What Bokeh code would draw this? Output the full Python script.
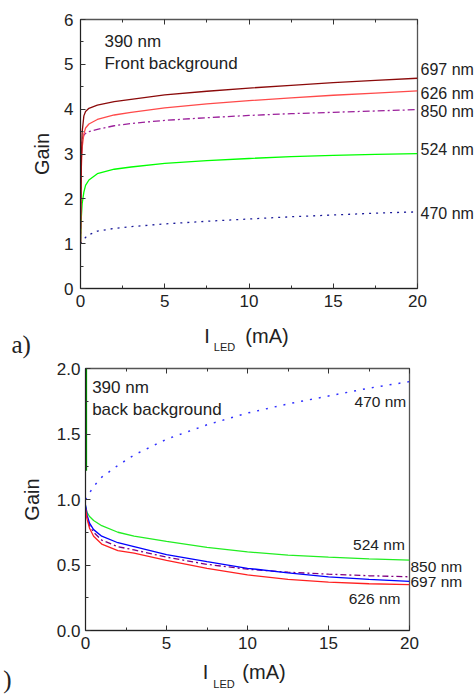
from bokeh.plotting import figure
from bokeh.layouts import column, row
from bokeh.models import (Range1d, SingleIntervalTicker, FixedTicker, LinearAxis, Label,
                          NumeralTickFormatter, CustomJSTickFormatter)
from bokeh.embed import file_html
from bokeh.resources import INLINE

# ---------------- data: panel a) front background ----------------
xa = [0, 0.05, 0.1, 0.2, 0.3, 0.5, 1, 2, 3, 5, 7.5, 10, 12.5, 15, 17.5, 20]
a_697 = [1.0, 2.9, 3.5, 3.85, 3.95, 4.02, 4.09, 4.17, 4.22, 4.32, 4.40, 4.47, 4.53, 4.59, 4.64, 4.69]
a_626 = [1.0, 2.7, 3.15, 3.45, 3.58, 3.67, 3.77, 3.87, 3.93, 4.03, 4.12, 4.19, 4.25, 4.31, 4.36, 4.41]
a_850 = [1.0, 2.9, 3.3, 3.42, 3.46, 3.50, 3.55, 3.63, 3.68, 3.75, 3.81, 3.86, 3.90, 3.93, 3.96, 3.99]
a_524 = [1.0, 1.6, 1.9, 2.15, 2.30, 2.42, 2.56, 2.66, 2.71, 2.79, 2.85, 2.90, 2.94, 2.97, 2.99, 3.01]
a_470 = [1.0, 1.03, 1.06, 1.10, 1.14, 1.20, 1.28, 1.34, 1.38, 1.44, 1.50, 1.55, 1.60, 1.64, 1.68, 1.71]
a_series = ["697 nm", "626 nm", "850 nm", "524 nm", "470 nm"]

# ---------------- data: panel b) back background ----------------
xb = [0, 0.1, 0.25, 0.5, 1, 2, 3, 5, 7.5, 10, 12.5, 15, 17.5, 20]
b_470 = [1.0, 1.02, 1.05, 1.10, 1.17, 1.26, 1.34, 1.46, 1.57, 1.66, 1.73, 1.79, 1.85, 1.90]
b_524 = [0.95, 0.90, 0.87, 0.84, 0.80, 0.75, 0.72, 0.68, 0.635, 0.60, 0.575, 0.56, 0.547, 0.537]
b_697 = [0.96, 0.88, 0.82, 0.77, 0.72, 0.67, 0.64, 0.58, 0.525, 0.475, 0.44, 0.41, 0.39, 0.375]
b_626 = [0.93, 0.85, 0.78, 0.72, 0.66, 0.61, 0.59, 0.535, 0.475, 0.425, 0.39, 0.37, 0.357, 0.35]
b_850 = [0.94, 0.86, 0.80, 0.75, 0.69, 0.64, 0.615, 0.56, 0.505, 0.468, 0.445, 0.43, 0.418, 0.41]
spike_x = [0.05, 0.05]
spike_y = [1.22, 2.0]

FONT = "Liberation Sans"
SERIF = "Liberation Serif"
TXT = "#222222"
NBSP = "\u00a0"


def hide_axis_marks(ax):
    ax.major_tick_in = 0
    ax.major_tick_out = 0
    ax.minor_tick_in = 0
    ax.minor_tick_out = 0
    ax.axis_line_color = None
    ax.major_tick_line_color = None
    ax.minor_tick_line_color = None


def style(p, ytick_interval, fmt, ylab_standoff, ymaj_standoff, xmaj_standoff):
    p.xgrid.visible = False
    p.ygrid.visible = False
    p.outline_line_color = "#555555"
    p.outline_line_width = 1.3
    p.background_fill_color = "white"
    p.border_fill_color = "white"
    p.xaxis.ticker = SingleIntervalTicker(interval=5, num_minor_ticks=2)
    p.yaxis.ticker = SingleIntervalTicker(interval=ytick_interval, num_minor_ticks=2)
    if fmt:
        p.yaxis.formatter = NumeralTickFormatter(format=fmt)
    for ax in (p.xaxis[0], p.yaxis[0]):
        ax.major_tick_in = 5
        ax.major_tick_out = 0
        ax.minor_tick_in = 3
        ax.minor_tick_out = 0
        ax.axis_line_color = "#222222"
        ax.major_tick_line_color = "#333333"
        ax.minor_tick_line_color = "#333333"
        ax.major_label_text_font = FONT
        ax.major_label_text_font_size = "17px"
        ax.major_label_text_color = TXT
    p.xaxis.major_label_standoff = xmaj_standoff
    p.yaxis.major_label_standoff = ymaj_standoff
    p.yaxis.axis_label = "Gain"
    p.yaxis.axis_label_text_font = FONT
    p.yaxis.axis_label_text_font_size = "20px"
    p.yaxis.axis_label_text_font_style = "normal"
    p.yaxis.axis_label_text_color = TXT
    p.yaxis.axis_label_standoff = ylab_standoff
    top = LinearAxis(ticker=SingleIntervalTicker(interval=5, num_minor_ticks=2),
                     formatter=CustomJSTickFormatter(code="return ''"))
    top.major_tick_in = 5
    top.major_tick_out = 0
    top.minor_tick_in = 3
    top.minor_tick_out = 0
    top.major_label_standoff = 0
    top.axis_line_color = None
    top.major_tick_line_color = "#333333"
    top.minor_tick_line_color = "#333333"
    p.add_layout(top, "above")


def right_labels(p, ys, texts, size, standoff):
    ax = LinearAxis(ticker=FixedTicker(ticks=ys),
                    major_label_overrides={y: t for y, t in zip(ys, texts)})
    hide_axis_marks(ax)
    ax.major_label_text_font = FONT
    ax.major_label_text_font_size = size
    ax.major_label_text_color = TXT
    ax.major_label_standoff = standoff
    p.add_layout(ax, "right")


def text_axis(p, ticks, texts, font, size, standoff):
    ax = LinearAxis(ticker=FixedTicker(ticks=ticks),
                    major_label_overrides={t: s for t, s in zip(ticks, texts)})
    hide_axis_marks(ax)
    ax.major_label_text_font = font
    ax.major_label_text_font_size = size
    ax.major_label_text_color = TXT
    ax.major_label_standoff = standoff
    p.add_layout(ax, "below")


def lab(p, x, y, text, size="17px", align="left", font=FONT):
    p.add_layout(Label(x=x, y=y, text=text, text_font=font, text_font_size=size,
                       text_color=TXT, text_align=align, text_baseline="middle"))


# ---------------- panel a ----------------
p1 = figure(width=476, height=360, output_backend="svg", toolbar_location=None,
            x_range=Range1d(0, 20), y_range=Range1d(0, 6),
            min_border_left=80, min_border_right=59, min_border_top=19, min_border_bottom=70)
style(p1, 1, None, ylab_standoff=8, ymaj_standoff=7, xmaj_standoff=6)

p1.line(xa, a_470, line_color="#1a1a99", line_width=1.3, line_dash="2 5")
p1.line(xa, a_524, line_color="#00ff00", line_width=1.3)
p1.line(xa, a_850, line_color="#9b209b", line_width=1.3, line_dash="7 3 2 3")
p1.line(xa, a_626, line_color="#ff4a4a", line_width=1.3)
p1.line(xa, a_697, line_color="#8b0a0a", line_width=1.3)

lab(p1, 1.42, 5.52, "390 nm")
lab(p1, 1.42, 5.02, "Front background")
right_labels(p1, [4.89, 4.36, 3.95, 3.09, 1.68], a_series, "16px", 3)
text_axis(p1, [7.51, 11.07], ["I", "(mA)"], FONT, "20px", 15)
text_axis(p1, [8.55], ["LED"], FONT, "11px", -9)
# panel tag, centred on the frame's left edge and pushed left by trailing no-break spaces
text_axis(p1, [0], ["a)" + NBSP * 19], SERIF, "25px", -25)

# ---------------- panel b ----------------
p2 = figure(width=476, height=336, output_backend="svg", toolbar_location=None,
            x_range=Range1d(0, 20), y_range=Range1d(0, 2),
            min_border_left=85, min_border_right=67, min_border_top=8, min_border_bottom=66)
style(p2, 0.5, "0.0", ylab_standoff=11, ymaj_standoff=5, xmaj_standoff=6)

p2.line(spike_x, spike_y, line_color="#008000", line_width=1.6)
p2.line(xb, b_470, line_color="#3030ff", line_width=1.5, line_dash="2 7")
p2.line(xb, b_524, line_color="#22ee22", line_width=1.3)
p2.line(xb, b_850, line_color="#800080", line_width=1.3, line_dash="6 3 2 3")
p2.line(xb, b_697, line_color="#0000ff", line_width=1.3)
p2.line(xb, b_626, line_color="#ff2020", line_width=1.3)

lab(p2, 0.41, 1.857, "390 nm")
lab(p2, 0.41, 1.687, "back background")
lab(p2, 19.8, 1.748, "470 nm", "15.5px", align="right")
lab(p2, 19.71, 0.654, "524 nm", "15.5px", align="right")
lab(p2, 19.44, 0.242, "626 nm", "15.5px", align="right")
right_labels(p2, [0.489, 0.374], ["850 nm", "697 nm"], "15.5px", 1)
text_axis(p2, [7.41, 11.02], ["I", "(mA)"], FONT, "20px", 9)
text_axis(p2, [8.55], ["LED"], FONT, "11px", -8)
text_axis(p2, [0], [")" + NBSP * 25], SERIF, "25px", -27)

layout = column(row(p1), row(p2), spacing=0)
open("out.html", "w").write(file_html(layout, INLINE))
